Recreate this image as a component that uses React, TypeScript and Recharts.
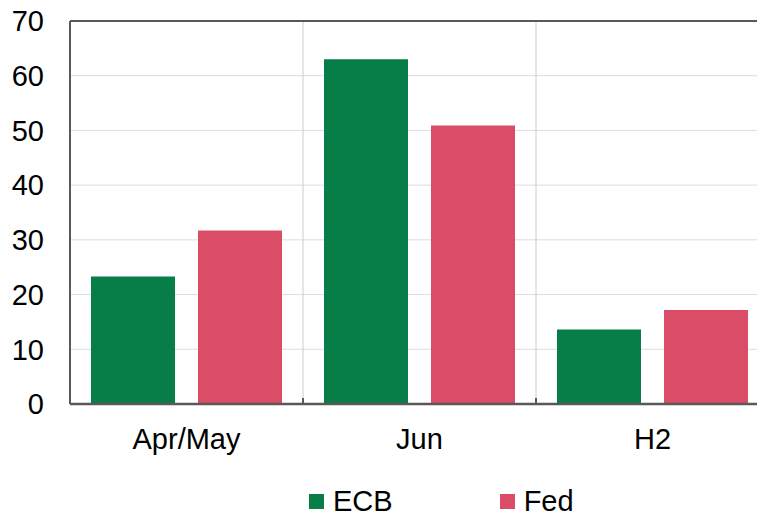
import React from "react";
import {
  Bar,
  BarChart,
  CartesianGrid,
  Legend,
  ReferenceLine,
  XAxis,
  YAxis,
} from "recharts";

const CATEGORIES = ["Apr/May", "Jun", "H2"];
const ECB = [23.3, 63.0, 13.6];
const FED = [31.7, 50.9, 17.2];
const Y_TICKS = [0, 10, 20, 30, 40, 50, 60, 70];
// category boundaries on a 0..3 slot scale, used for the vertical grid and the small axis ticks
const SLOT_DOMAIN = [0, 3];
const BOUNDARY_TICKS = [1, 2];

const GREEN = "#077D48";
const RED = "#DB4D66";
const AXIS = "#595959";
const FONT = '"Liberation Sans", Arial, sans-serif';

const data = CATEGORIES.map((label, i) => ({ label, slot: i + 0.5, ecb: ECB[i], fed: FED[i] }));

const legendItems = [
  { name: "ECB", color: GREEN },
  { name: "Fed", color: RED },
];

function LegendContent() {
  return (
    <div style={{ display: "flex", height: 33, lineHeight: "33px", fontFamily: FONT, fontSize: 29, color: "#000", paddingLeft: 309 }}>
      {legendItems.map((item, i) => (
        <div key={item.name} style={{ display: "flex", alignItems: "center", marginRight: i === 0 ? 107 : 0 }}>
          <span style={{ display: "inline-block", width: 15, height: 15, background: item.color, marginRight: 9 }} />
          <span>{item.name}</span>
        </div>
      ))}
    </div>
  );
}

export default function App() {
  return (
    <div style={{ margin: -8, width: 765, height: 540, overflow: "hidden", position: "relative", background: "#fff", fontFamily: FONT }}>
      <BarChart
        width={772}
        height={512}
        data={data}
        margin={{ top: 21, right: 3, left: 0, bottom: 35 }}
        barCategoryGap={21}
        barGap={23}
      >
        <CartesianGrid vertical={false} stroke="#D9DEDE" strokeWidth={1} />
        <CartesianGrid horizontal={false} xAxisId="grid" stroke="#C8CECE" strokeWidth={1} />
        <XAxis
          dataKey="label"
          height={40}
          axisLine={{ stroke: AXIS, strokeWidth: 2.5 }}
          tickLine={false}
          tickMargin={18}
          tick={{ fill: "#000", fontSize: 29, fontFamily: FONT }}
        />
        <XAxis
          xAxisId="grid"
          dataKey="slot"
          type="number"
          domain={SLOT_DOMAIN}
          ticks={BOUNDARY_TICKS}
          allowDataOverflow
          mirror
          height={30}
          axisLine={false}
          tickSize={6}
          tickLine={{ stroke: AXIS, strokeWidth: 2 }}
          tickFormatter={() => ""}
        />
        <YAxis
          width={70}
          domain={[0, 70]}
          ticks={Y_TICKS}
          interval={0}
          axisLine={{ stroke: AXIS, strokeWidth: 2 }}
          tickLine={false}
          tickMargin={20}
          tick={{ fill: "#000", fontSize: 29, fontFamily: FONT }}
        />
        <ReferenceLine y={70} stroke={AXIS} strokeWidth={2} />
        <Bar dataKey="ecb" name="ECB" fill={GREEN} isAnimationActive={false} />
        <Bar dataKey="fed" name="Fed" fill={RED} isAnimationActive={false} />
        <Legend verticalAlign="bottom" content={LegendContent} wrapperStyle={{ top: 485, bottom: "auto", left: 0 }} />
      </BarChart>
    </div>
  );
}
